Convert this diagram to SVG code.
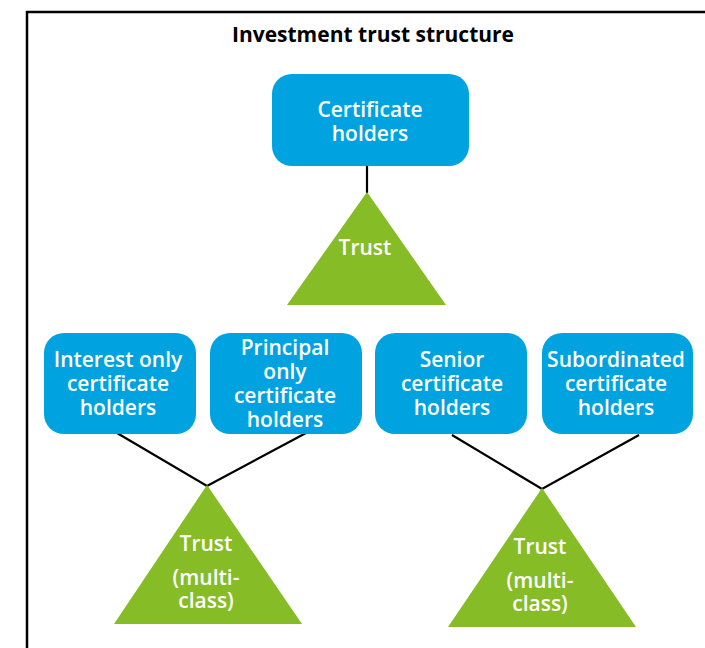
<svg xmlns="http://www.w3.org/2000/svg" width="705" height="648" viewBox="0 0 705 648">
<style>
.box{fill:#00A3E0}
.tri{fill:#86BC25}
.t{font-family:"Open Sans","Noto Sans","Liberation Sans",sans-serif;font-size:21px;font-weight:600;fill:#fff;text-anchor:middle}
.title{font-family:"Open Sans","Noto Sans","Liberation Sans",sans-serif;font-size:21px;font-weight:bold;fill:#000;text-anchor:middle}
.c{stroke:#000;stroke-width:2.2;fill:none}
</style>
<rect x="0" y="0" width="705" height="648" fill="#fff"/>
<rect x="27" y="12" width="700" height="660" fill="none" stroke="#000" stroke-width="2.5"/>
<text class="title" x="373" y="42">Investment trust structure</text>
<g id="connectors">
<line class="c" x1="367" y1="166" x2="367" y2="193"/>
<polyline class="c" points="117,433 207,486 306,433"/>
<polyline class="c" points="452,435 542,489 639,435"/>
</g>
<g id="certificate-holders">
<rect class="box" x="272" y="74" width="197" height="92" rx="20"/>
<text class="t" x="370" y="117">Certificate</text>
<text class="t" x="370" y="141">holders</text>
</g>
<g id="trust">
<polygon class="tri" points="367,192 446,305 287,305"/>
<text class="t" x="365" y="255">Trust</text>
</g>
<g id="interest-only">
<rect class="box" x="44" y="333" width="152" height="101" rx="20"/>
<text class="t" x="118" y="367">Interest only</text>
<text class="t" x="118" y="391">certificate</text>
<text class="t" x="118" y="415">holders</text>
</g>
<g id="principal-only">
<rect class="box" x="210" y="333" width="152" height="101" rx="20"/>
<text class="t" x="285" y="355">Principal</text>
<text class="t" x="285" y="379">only</text>
<text class="t" x="285" y="403">certificate</text>
<text class="t" x="285" y="427">holders</text>
</g>
<g id="senior">
<rect class="box" x="375" y="333" width="152" height="101" rx="20"/>
<text class="t" x="452" y="367">Senior</text>
<text class="t" x="452" y="391">certificate</text>
<text class="t" x="452" y="415">holders</text>
</g>
<g id="subordinated">
<rect class="box" x="542" y="333" width="151" height="101" rx="20"/>
<text class="t" x="616" y="367">Subordinated</text>
<text class="t" x="616" y="391">certificate</text>
<text class="t" x="616" y="415">holders</text>
</g>
<g id="trust-multi-left">
<polygon class="tri" points="207,485 302,624 114,624"/>
<text class="t" x="206" y="551">Trust</text>
<text class="t" x="206" y="585">(multi-</text>
<text class="t" x="206" y="608">class)</text>
</g>
<g id="trust-multi-right">
<polygon class="tri" points="542,488 636,627 448,627"/>
<text class="t" x="540" y="554">Trust</text>
<text class="t" x="540" y="588">(multi-</text>
<text class="t" x="540" y="611">class)</text>
</g>
</svg>
